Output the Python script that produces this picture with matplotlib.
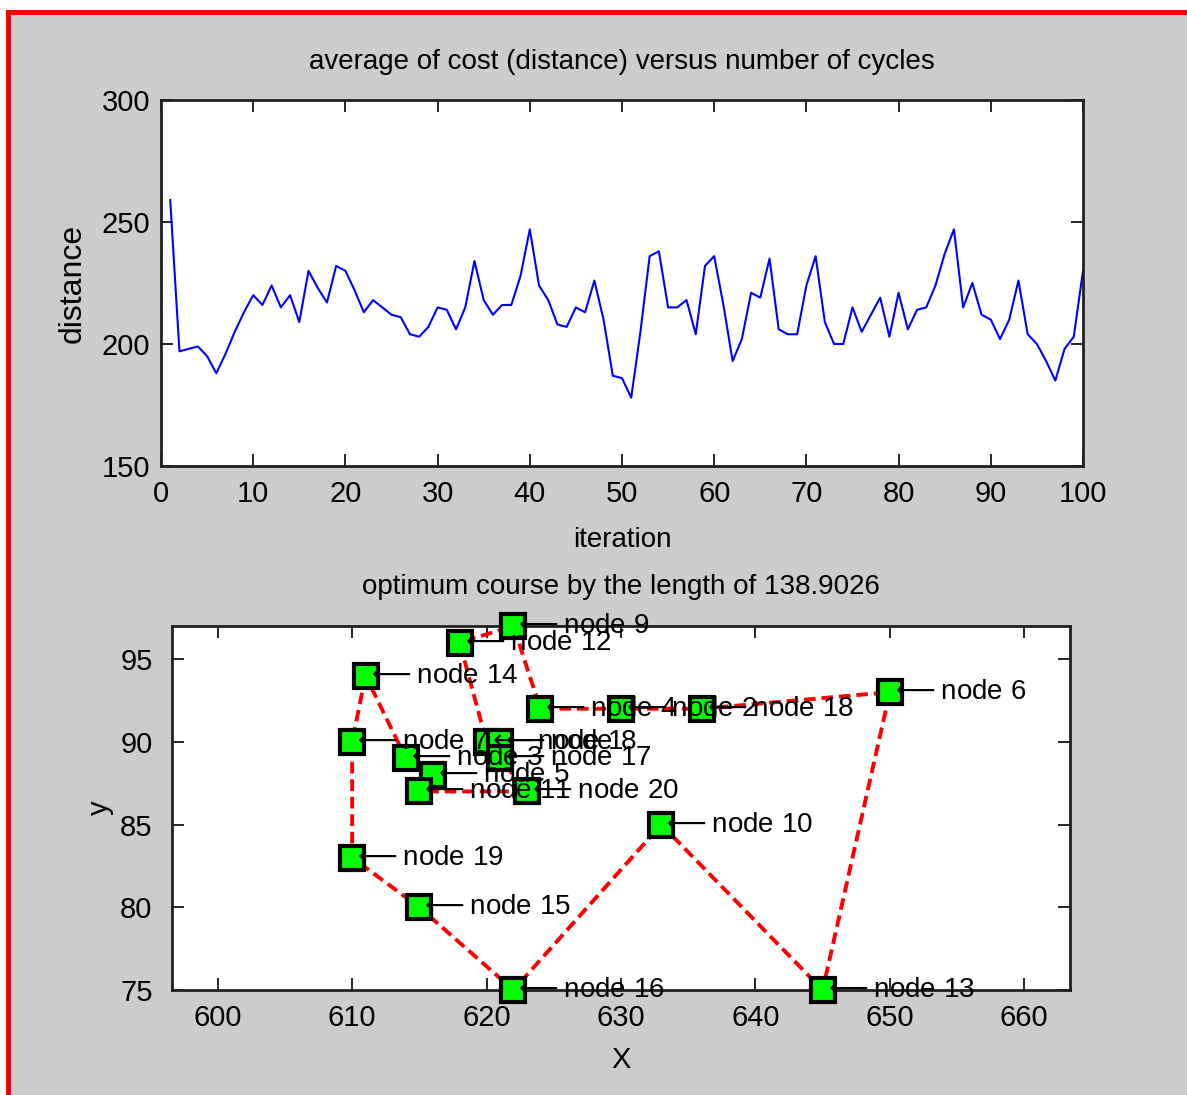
import matplotlib
matplotlib.use("Agg")
import matplotlib.pyplot as plt
from matplotlib.patches import Rectangle

# ---------------- data ----------------
iterations = list(range(1, 101))
avg_distance = [
    259, 197, 198, 199, 195, 188, 196, 205, 213, 220,
    216, 224, 215, 220, 209, 230, 223, 217, 232, 230,
    222, 213, 218, 215, 212, 211, 204, 203, 207, 215,
    214, 206, 215, 234, 218, 212, 216, 216, 228, 247,
    224, 218, 208, 207, 215, 213, 226, 210, 187, 186,
    178, 205, 236, 238, 215, 215, 218, 204, 232, 236,
    216, 193, 202, 221, 219, 235, 206, 204, 204, 224,
    236, 209, 200, 200, 215, 205, 212, 219, 203, 221,
    206, 214, 215, 224, 237, 247, 215, 225, 212, 210,
    202, 210, 226, 204, 200, 193, 185, 198, 203, 230,
]

node_ids = list(range(1, 21))
node_x = [620, 630, 614, 624, 616, 650, 610, 621, 622, 633,
          615, 618, 645, 611, 615, 622, 621, 636, 610, 623]
node_y = [90, 92, 89, 92, 88, 93, 90, 90, 97, 85,
          87, 96, 75, 94, 80, 75, 89, 92, 83, 87]
tour = [14, 7, 19, 15, 16, 10, 13, 6, 18, 2, 4, 9, 12, 1, 8, 17, 20, 11, 5, 3, 14]
tour_length = 138.9026

top_title = "average of cost (distance) versus number of cycles"
bottom_title = "optimum course by the length of %.4f" % tour_length

# ---------------- fonts ----------------
fam = ["Liberation Sans", "DejaVu Sans"]
plt.rcParams["font.family"] = fam
plt.rcParams["mathtext.fontset"] = "dejavusans"

W, H = 1187, 1095
fig = plt.figure(figsize=(W / 100, H / 100), dpi=100, facecolor="white")

# gray window area with red frame (top and left visible)
frame = Rectangle((7.5 / W, -0.1), 1.2, 1 - 11.5 / H + 0.1, transform=fig.transFigure,
                  facecolor="#cccccc", edgecolor="#ff0000", linewidth=3.6, zorder=-10)
fig.add_artist(frame)


def px_axes(l, t, r, b):
    return fig.add_axes([l / W, 1 - b / H, (r - l) / W, (b - t) / H])


def style_axes(ax, ypad):
    ax.set_facecolor("white")
    for s in ax.spines.values():
        s.set_linewidth(2.0)
        s.set_color("#202020")
    ax.tick_params(direction="in", top=True, right=True, length=8.5, width=1.2,
                   labelsize=21, colors="black")
    ax.tick_params(axis="x", pad=10)
    ax.tick_params(axis="y", pad=ypad)


# ---------------- top plot ----------------
ax1 = px_axes(161, 100, 1083, 466)
ax1.plot(iterations, avg_distance, color="#0000ff", linewidth=1.5)
ax1.set_xlim(0, 100)
ax1.set_ylim(150, 300)
ax1.set_xticks(range(0, 101, 10))
ax1.set_yticks(range(150, 301, 50))
style_axes(ax1, 8)
ax1.set_title(top_title, fontsize=20, y=(466 - 62) / 366, va="center", pad=0)
ax1.set_xlabel("iteration", fontsize=20, va="center")
ax1.xaxis.set_label_coords(0.5, (466 - 540) / 366)
ax1.set_ylabel("distance", fontsize=23, va="center")
ax1.yaxis.set_label_coords((73 - 161) / 922, 0.5)

# ---------------- bottom plot ----------------
ax2 = px_axes(172, 626, 1070, 990)
lx = [node_x[n - 1] for n in tour]
ly = [node_y[n - 1] for n in tour]
ax2.plot(lx, ly, color="#ff0000", linestyle=(0, (3, 1.5)), linewidth=2.8, zorder=2)
ax2.plot(node_x, node_y, linestyle="none", marker="s", markersize=17,
         markerfacecolor="#00ff00", markeredgecolor="black", markeredgewidth=3.0,
         zorder=3, clip_on=False)
for i, x, y in zip(node_ids, node_x, node_y):
    ax2.text(x, y, r"$\longleftarrow$node %d" % i, fontsize=20, va="center",
             ha="left", color="black", zorder=4, clip_on=False)
ax2.set_xlim(596.6, 663.4)
ax2.set_ylim(75, 97)
ax2.set_xticks(range(600, 661, 10))
ax2.set_yticks(range(75, 96, 5))
style_axes(ax2, 14)
ax2.set_title(bottom_title, fontsize=20, y=(990 - 587) / 364, va="center", pad=0)
ax2.set_xlabel("X", fontsize=21, va="center")
ax2.xaxis.set_label_coords(0.5, (990 - 1060) / 364)
ax2.set_ylabel("y", fontsize=21, va="center")
ax2.yaxis.set_label_coords((100 - 172) / 898, 0.5)

fig.savefig("out.png", dpi=100, facecolor=fig.get_facecolor())
